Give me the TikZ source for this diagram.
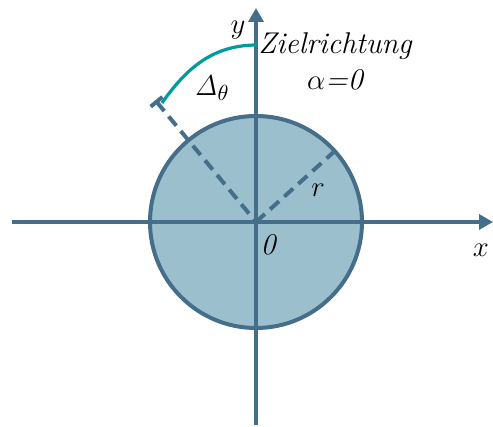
\documentclass[tikz,border=0pt]{standalone}
\usetikzlibrary{positioning,arrows.meta,calc}
\definecolor{achse}{HTML}{456E8A}
\definecolor{kreis}{HTML}{9BBFCC}
\definecolor{bogen}{HTML}{009B9B}
\tikzset{
  axis/.style={draw=achse, line width=2pt, -{Triangle[length=7pt,width=7.5pt]}},
  radius line/.style={draw=achse, line width=2pt, dash pattern=on 6pt off 3.5pt},
  lbl/.style={font=\fontsize{15}{17}\selectfont\itshape, inner sep=0pt},
}

\begin{document}
\begin{tikzpicture}[x=0.5pt, y=0.5pt]
    \useasboundingbox (-256,-205) rectangle (237,222);
    \coordinate (O) at (0,0);
    \coordinate (xl) at (-244,0);
    \coordinate (xr) at (237,0);
    \coordinate (yb) at (0,-203);
    \coordinate (yt) at (0,214);
    \coordinate (R) at (42:104);
    \coordinate (T) at (129.6:156);
    \coordinate (T1) at ($(T)!3.8pt!90:(O)$);
    \coordinate (T2) at ($(T)!3.8pt!-90:(O)$);
    \coordinate (A) at (1,177);
    \coordinate (B) at (-94,119);
    \filldraw[fill=kreis, draw=achse, line width=2pt] (O) circle[radius=106];
    \draw[axis] (xl) -- (xr);
    \draw[axis] (yb) -- (yt);
    \draw[radius line] (O) -- (R);
    \draw[radius line] (T) -- (O);
    \draw[achse, line width=2pt] (T1) -- (T2);
    \draw[bogen, line width=1.6pt] (A) to[out=180, in=55] (B);
    \node[lbl] (ylab) at (-18,192) {$y$};
    \node[lbl] (ziel) at (79,176) {Zielrichtung};
    \node[lbl] (alpha) at (79,142) {$\alpha$=0};
    \node[lbl] (delta) at (-44,134) {$\mathit{\Delta}_\theta$};
    \node[lbl] (rlab) at (62,32) {$r$};
    \node[lbl] (null) at (12,-23) {0};
    \node[lbl] (xlab) at (225,-28) {$x$};
  \end{tikzpicture}
\end{document}
